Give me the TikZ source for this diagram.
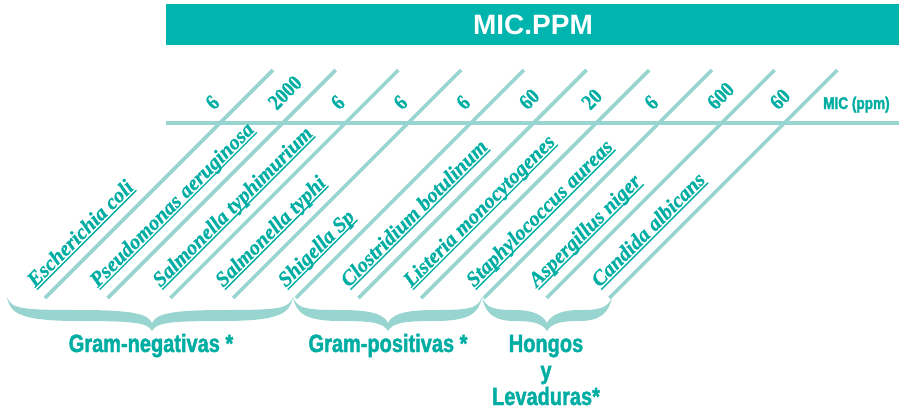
\documentclass[tikz,border=0pt]{standalone}
\usepackage{fontspec}
\usepackage{graphicx}
\setmainfont{Liberation Serif}
\newfontfamily\titlefont{Liberation Sans}
\newfontfamily\grpfont[FakeStretch=0.8,FakeBold=1.6]{Liberation Sans}
\newfontfamily\lblfont[FakeBold=0.7]{Liberation Serif}
\definecolor{txtteal}{HTML}{00ADA3}
\definecolor{bannerteal}{HTML}{00B5AD}
\definecolor{lightteal}{HTML}{98D5D1}
\newcommand\ulbox[1]{\setbox0\hbox{#1}\rlap{\rule[-3.2pt]{\wd0}{1.4pt}}\box0}
\newcommand\numtext[1]{\scalebox{0.85}[1]{#1}}
\newcommand\mybrace[3]{%
\fill[lightteal] (#1,297)
 .. controls ({#1+4},309) and ({#1+15},310) .. ({(#1+#2)/2},310)
 .. controls ({#2-14},310) and ({#2-4},315) .. (#2,323)
 .. controls ({#2+4},315) and ({#2+14},310) .. ({(#2+#3)/2},310)
 .. controls ({#3-15},310) and ({#3-4},309) .. (#3,297)
 .. controls ({#3-3},313) and ({#3-12},321) .. ({(#2+#3)/2},321)
 .. controls ({#2+14},321) and ({#2+5},323) .. (#2,331)
 .. controls ({#2-5},323) and ({#2-14},321) .. ({(#1+#2)/2},321)
 .. controls ({#1+12},321) and ({#1+3},313) .. cycle;}
\begin{document}
\begin{tikzpicture}[x=1pt,y=-1pt,
  lightline/.style={draw=lightteal,line width=4.5pt},
  diagline/.style={draw=lightteal,line width=3.6pt},
  numtxt/.style={text=txtteal,inner sep=0pt,rotate=45,anchor=base west,
    font=\lblfont\fontsize{22}{24}\selectfont\bfseries},
  lbltxt/.style={text=txtteal,inner sep=0pt,rotate=45,anchor=base west,
    font=\lblfont\fontsize{21}{24}\selectfont\bfseries\itshape},
  grptxt/.style={text=txtteal,inner sep=0pt,anchor=base,
    font=\grpfont\fontsize{25}{30}\selectfont\bfseries},
  bannerbox/.style={fill=bannerteal,inner sep=0pt,anchor=north west,
    minimum width=733pt,minimum height=41pt}]
\useasboundingbox (0,0) rectangle (899,413);
% banner
\node[bannerbox] (banner) at (166,4) {};
\node[text=white,inner sep=0pt,font=\titlefont\fontsize{28}{30}\selectfont\bfseries] (title) at (533,25) {MIC.PPM};
% horizontal axis
\coordinate (hl) at (166,123);
\coordinate (hr) at (899,123);
\draw[lightline] (hl) -- (hr);
\node[text=txtteal,inner sep=0pt,anchor=base west,
  font=\grpfont\fontsize{17}{20}\selectfont\bfseries] (micppm) at (823,109) {MIC (ppm)};
% diagonals, values and names
\foreach \i/\num/\name in {0/6/Escherichia coli,1/2000/Pseudomonas aeruginosa,
  2/6/Salmonella typhimurium,3/6/Salmonella typhi,4/6/Shigella Sp,
  5/60/Clostridium botulinum,6/20/Listeria monocytogenes,
  7/6/Staphylococcus aureas,8/600/Aspergillus niger,9/60/Candida albicans}{
  \coordinate (t\i) at ({273+62.7*\i},70);
  \coordinate (b\i) at ({45+62.7*\i},298);
  \draw[diagline] (b\i) -- (t\i);
  \node[numtxt] (n\i) at ({273+62.7*\i-59},111) {\numtext{\num}};
  \node[lbltxt] (l\i) at ({45+62.7*\i-10},288) {\ulbox{\name}};
}
% braces
\mybrace{7}{152}{293}
\mybrace{293}{388}{482}
\mybrace{482}{547}{612}
% group labels
\node[grptxt] (gneg) at (151,352) {Gram-negativas *};
\node[grptxt] (gpos) at (388,352) {Gram-positivas *};
\node[grptxt] (hongos) at (546,352) {Hongos};
\node[grptxt] (ytxt) at (546,379) {y};
\node[grptxt] (lev) at (546,405) {Levaduras*};
\end{tikzpicture}
\end{document}
